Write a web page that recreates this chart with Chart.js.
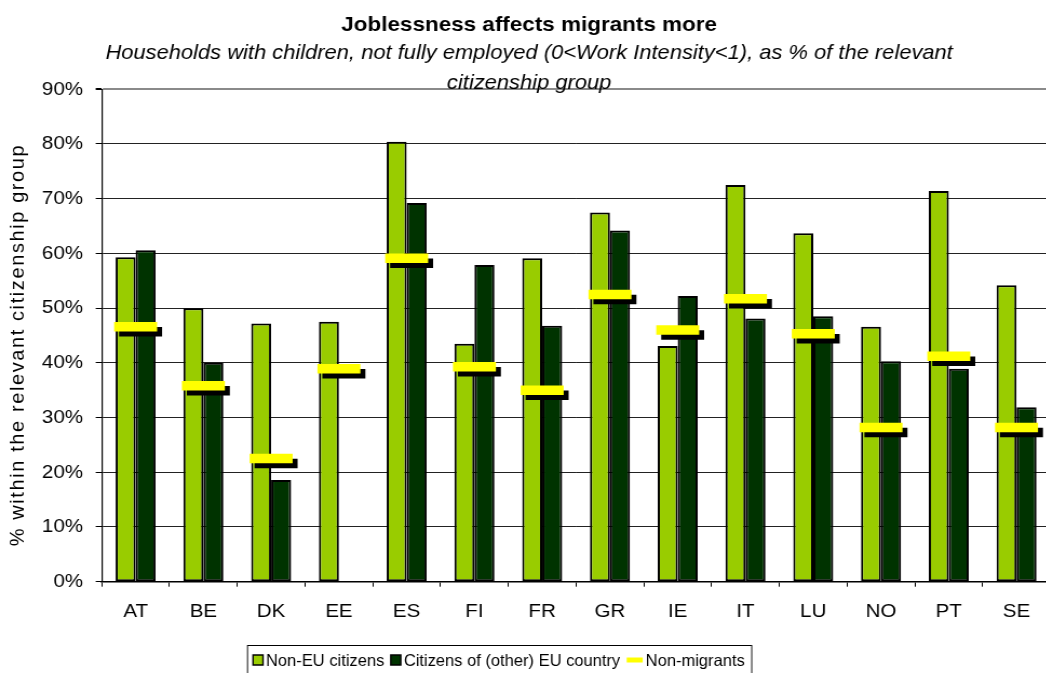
<!DOCTYPE html>
<html>
<head>
<meta charset="utf-8">
<title>Joblessness affects migrants more</title>
<script src="https://cdn.jsdelivr.net/npm/chart.js@4.4.0/dist/chart.umd.min.js"></script>
<style>
  html, body { margin: 0; padding: 0; background: #fff; overflow: hidden; }
  body { width: 1046px; height: 673px; position: relative; }
  /* the chart is laid out a little narrower and widened on screen */
  #chart { position: absolute; left: 0; top: 0; transform: scaleX(1.08); transform-origin: 0 0; }
</style>
</head>
<body>
<canvas id="chart" width="1002" height="673"></canvas>
<script>
// Data
const countries = ['AT', 'BE', 'DK', 'EE', 'ES', 'FI', 'FR', 'GR', 'IE', 'IT', 'LU', 'NO', 'PT', 'SE'];
const nonEuCitizens = [59.3, 50.0, 47.2, 47.5, 80.4, 43.5, 59.1, 67.5, 43.1, 72.5, 63.7, 46.6, 71.4, 54.2];
const euCitizens = [60.6, 40.0, 18.6, null, 69.2, 57.9, 46.8, 64.2, 52.2, 48.1, 48.5, 40.3, 38.9, 31.9];
const nonMigrants = [46.6, 35.8, 22.5, 38.9, 59.1, 39.3, 35.0, 52.5, 46.0, 51.7, 45.3, 28.2, 41.2, 28.2];
const yTicks = [0, 10, 20, 30, 40, 50, 60, 70, 80, 90];

const STRETCH = 1.08;
const FONT = "'Liberation Sans', Arial, sans-serif";
const Y_TITLE = '% within the relevant citizenship group';

// Black drop shadow under the yellow non-migrant dashes
const dashShadow = {
    id: 'dashShadow',
    beforeDatasetDraw(chart, args) {
        if (chart.data.datasets[args.index].type !== 'line') return;
        const ctx = chart.ctx;
        ctx.save();
        ctx.shadowColor = '#000';
        ctx.shadowOffsetX = 4.6;
        ctx.shadowOffsetY = 5;
        ctx.shadowBlur = 0;
    },
    afterDatasetDraw(chart, args) {
        if (chart.data.datasets[args.index].type !== 'line') return;
        chart.ctx.restore();
    }
};

// Rotated y-axis title, drawn so the glyphs are not widened by the stretch
const yAxisTitle = {
    id: 'yAxisTitle',
    afterDraw(chart) {
        const ctx = chart.ctx;
        ctx.save();
        ctx.scale(1 / STRETCH, 1);
        ctx.translate(18, 345);
        ctx.rotate(-Math.PI / 2);
        ctx.font = '20px ' + FONT;
        ctx.letterSpacing = '1.6px';
        ctx.fillStyle = '#000';
        ctx.textAlign = 'center';
        ctx.textBaseline = 'middle';
        ctx.fillText(Y_TITLE, 0, 0);
        ctx.restore();
    }
};

// Boxed legend under the axis (screen pixel units)
const legendBox = {
    id: 'legendBox',
    afterDraw(chart) {
        const ctx = chart.ctx;
        const sets = chart.data.datasets;
        const top = 645, midY = 660, left = 247;
        ctx.save();
        ctx.scale(1 / STRETCH, 1);
        ctx.font = '16.5px ' + FONT;
        ctx.textBaseline = 'middle';
        ctx.textAlign = 'left';
        let x = 253;
        sets.forEach(ds => {
            if (ds.type === 'line') {
                ctx.strokeStyle = ds.borderColor;
                ctx.lineWidth = 5;
                ctx.beginPath();
                ctx.moveTo(x, midY);
                ctx.lineTo(x + 16, midY);
                ctx.stroke();
                x += 19;
            } else {
                ctx.fillStyle = ds.backgroundColor;
                ctx.fillRect(x, midY - 5, 10, 10);
                ctx.strokeStyle = '#000';
                ctx.lineWidth = 1.5;
                ctx.strokeRect(x, midY - 5, 10, 10);
                x += 13;
            }
            ctx.fillStyle = '#000';
            ctx.fillText(ds.label, x, midY + 1);
            x += ctx.measureText(ds.label).width + 6.5;
        });
        ctx.strokeStyle = '#000';
        ctx.lineWidth = 1;
        ctx.strokeRect(left + 0.5, top + 0.5, x - left, 40);
        ctx.restore();
    }
};

const chart = new Chart(document.getElementById('chart'), {
    type: 'bar',
    data: {
        labels: countries,
        datasets: [{
            label: 'Non-EU citizens',
            data: nonEuCitizens,
            backgroundColor: '#99cc00',
            borderColor: '#000',
            borderWidth: 2,
            borderSkipped: false
        }, {
            label: 'Citizens of (other) EU country',
            data: euCitizens,
            backgroundColor: '#003300',
            borderColor: '#000',
            borderWidth: 2,
            borderSkipped: false
        }, {
            type: 'line',
            label: 'Non-migrants',
            data: nonMigrants,
            showLine: false,
            order: -1,
            clip: false,
            borderColor: '#ffff00',
            backgroundColor: '#ffff00',
            pointStyle: 'line',
            pointRadius: 19.9,
            pointBorderWidth: 9.5,
            pointBorderColor: '#ffff00'
        }]
    },
    options: {
        responsive: false,
        devicePixelRatio: 1,
        animation: false,
        events: [],
        layout: { padding: { left: 0, right: 22.1, top: 0, bottom: 0 } },
        datasets: {
            bar: { categoryPercentage: 0.59, barPercentage: 1 }
        },
        plugins: {
            legend: { display: false },
            tooltip: { enabled: false },
            title: {
                display: true,
                text: 'Joblessness affects migrants more',
                color: '#000',
                font: { family: FONT, size: 20.8, weight: 'bold', lineHeight: 1.2 },
                padding: { top: 13, bottom: 0 }
            },
            subtitle: {
                display: true,
                text: ['Households with children, not fully employed (0<Work Intensity<1), as % of the relevant',
                       'citizenship group'],
                color: '#000',
                font: { family: FONT, size: 20.3, style: 'italic', lineHeight: 1.478 },
                padding: { top: 0, bottom: -8.7 }
            }
        },
        scales: {
            x: {
                grid: {
                    display: true,
                    drawOnChartArea: false,
                    drawTicks: true,
                    tickLength: 5,
                    color: '#000',
                    offset: true
                },
                border: { display: true, color: '#000', width: 1.5 },
                ticks: {
                    color: '#000',
                    font: { family: FONT, size: 19 },
                    padding: 13.9,
                    maxRotation: 0
                },
                afterFit(scale) { scale.height = 91.3; }
            },
            y: {
                min: 0,
                max: 90,
                afterBuildTicks(scale) { scale.ticks = yTicks.map(v => ({ value: v })); },
                grid: {
                    color: ctx => ctx.tick && ctx.tick.value === 90 ? '#8a8a8a' : '#222',
                    lineWidth: ctx => ctx.tick && ctx.tick.value === 90 ? 2 : 1,
                    tickColor: '#000',
                    tickLength: 5.6
                },
                border: { display: true, color: '#000', width: 1.2 },
                ticks: {
                    color: '#000',
                    font: { family: FONT, size: 19 },
                    padding: 11.7,
                    callback: v => v + '%'
                },
                afterFit(scale) { scale.width = 94.2; }
            }
        }
    },
    plugins: [dashShadow, yAxisTitle, legendBox]
});
</script>
</body>
</html>
